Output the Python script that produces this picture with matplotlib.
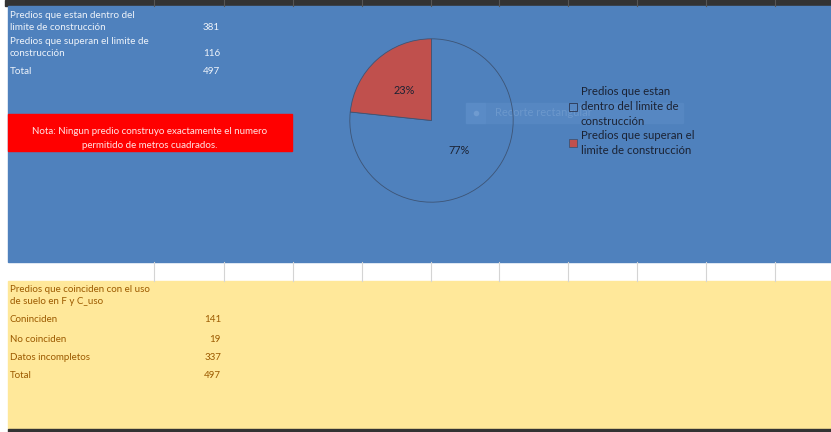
import matplotlib
matplotlib.use("Agg")
import matplotlib.pyplot as plt
from matplotlib.patches import Rectangle

# ---- data ----
top_rows = ["Predios que estan dentro del\nlimite de construcción",
            "Predios que superan el limite de\nconstrucción",
            "Total"]
top_values = [381, 116, 497]

pie_labels = ["Predios que estan\ndentro del limite de\nconstrucción",
              "Predios que superan el\nlimite de construcción"]
pie_values = [381, 116]

note_text = "Nota: Ningun predio construyo exactamente el numero\npermitido de metros cuadrados."

bottom_title = "Predios que coinciden con el uso\nde suelo en F y C_uso"
bottom_rows = ["Coninciden", "No coinciden", "Datos incompletos", "Total"]
bottom_values = [141, 19, 337, 497]

col_lines = [154, 224, 293, 362, 431, 499, 568, 637, 706, 775]

# ---- style ----
W, H = 831, 432
BLUE = "#4F81BD"
YELLOW = "#FFE89A"
RED_FILL = "#C0504D"
GOLD_TXT = "#9C5A00"
FONT = ["Lato", "DejaVu Sans"]

fig = plt.figure(figsize=(W / 100, H / 100), dpi=100)
bg = fig.add_axes([0, 0, 1, 1])
bg.set_xlim(0, W)
bg.set_ylim(H, 0)
bg.axis("off")

# sheet background
bg.add_patch(Rectangle((0, 0), W, H, color="white", zorder=0))
bg.add_patch(Rectangle((5, 0), W - 5, 6, color="#333333", zorder=1))
for x in col_lines:
    bg.plot([x, x], [0, 6], color="#555555", lw=0.8, zorder=2)
bg.add_patch(Rectangle((8, 6), W - 8, 256, color=BLUE, zorder=1))
for x in col_lines:
    bg.plot([x, x], [262, 281], color="#d4d4d4", lw=0.8, zorder=2)
bg.add_patch(Rectangle((8, 281), W - 8, 148, color=YELLOW, zorder=1))
bg.add_patch(Rectangle((8, 429), W - 8, 3, color="#333333", zorder=1))

# faint snipping overlay
bg.add_patch(Rectangle((466, 103), 217, 20, color="#5687c2", zorder=2))
bg.add_patch(Rectangle((466, 103), 19, 20, color="#5a8bc6", zorder=2))
bg.plot([475.5], [113], marker="o", ms=3, color="#6f9bd0", zorder=3)
bg.text(495, 113, "Recorte rectangular", fontsize=8, color="#6c98cc",
        va="center", ha="left", family=FONT, zorder=3)

# top-left table
top_y = [(16, 28), (42, 53), (72, 72)]
for lbl, val, (y1, y2) in zip(top_rows, top_values, top_y):
    lines = lbl.split("\n")
    for i, ln in enumerate(lines):
        bg.text(10, [y1, y2][i] if len(lines) > 1 else y1, ln, fontsize=7.1,
                color="#eef3fa", va="center", ha="left", family=FONT, zorder=4)
    bg.text(220, y2, str(val), fontsize=7.1, color="#eef3fa",
            va="center", ha="right", family=FONT, zorder=4)

# red note
bg.add_patch(Rectangle((8, 114), 284, 37, color="#FF0000", zorder=3))
for i, ln in enumerate(note_text.split("\n")):
    bg.text(150, 131 + 14 * i, ln, fontsize=7, color="#ffe4e4",
            va="center", ha="center", family=FONT, zorder=4)

# bottom table
for i, ln in enumerate(bottom_title.split("\n")):
    bg.text(10, 289 + 12.5 * i, ln, fontsize=7.0, color=GOLD_TXT,
            va="center", ha="left", family=FONT, zorder=4)
bottom_y = [320, 339, 357.5, 375.5]
for lbl, val, y in zip(bottom_rows, bottom_values, bottom_y):
    bg.text(10, y, lbl, fontsize=7.0, color=GOLD_TXT, va="center",
            ha="left", family=FONT, zorder=4)
    bg.text(221, y, str(val), fontsize=7.0, color=GOLD_TXT, va="center",
            ha="right", family=FONT, zorder=4)

# pie chart
cx, cy, r = 431.5, 120.5, 82.5
pax = fig.add_axes([(cx - r) / W, (H - cy - r) / H, 2 * r / W, 2 * r / H])
wedges, texts, autotexts = pax.pie(
    pie_values, startangle=90, counterclock=False, radius=1,
    colors=["none", RED_FILL], autopct="%1.0f%%", pctdistance=0.5,
    wedgeprops=dict(edgecolor="#3d5475", linewidth=0.6),
    textprops=dict(fontsize=7.8, color="#1b2233", family=FONT))
pax.set_xlim(-1.01, 1.01)
pax.set_ylim(-1.01, 1.01)
pax.set_facecolor("none")
pax.axis("off")

leg = fig.legend(wedges, pie_labels, loc="upper left",
                 bbox_to_anchor=(569 / W, 1 - 86 / H), frameon=False,
                 prop=dict(family=FONT, size=8.2), handlelength=0.7,
                 handleheight=0.7, handletextpad=0.35, labelspacing=0.3,
                 borderpad=0, borderaxespad=0)
for t in leg.get_texts():
    t.set_color("#1b2233")
    t.set_linespacing(1.42)
leg.legend_handles[0].set_edgecolor("#2a3550")

fig.savefig("out.png", dpi=100)
